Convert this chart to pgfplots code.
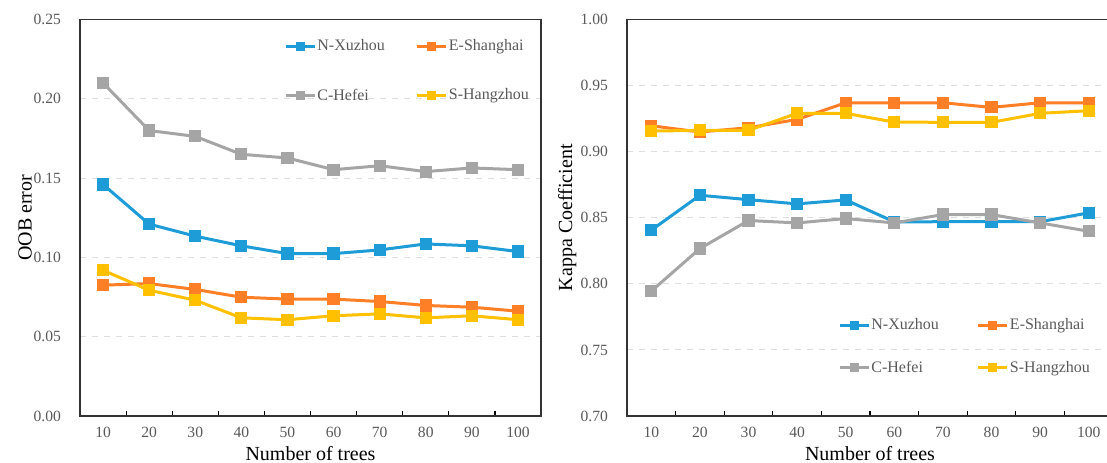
\documentclass[border=0pt]{standalone}
\usepackage{fontspec}
\setmainfont{Liberation Serif}
\usepackage{pgfplots}
\pgfplotsset{compat=1.18}
\definecolor{cblue}{HTML}{1E9CD7}
\definecolor{corange}{HTML}{FF7F27}
\definecolor{cgray}{HTML}{A5A5A5}
\definecolor{cyellow}{HTML}{FFC000}
\definecolor{txt}{HTML}{595959}
\pgfplotsset{
  myax/.style={
    scale only axis,
    height=198.25pt,
    xmin=0.5, xmax=10.5,
    xtick={0.5,1.5,...,10.5},
    x tick label as interval,
    xticklabels={10,20,30,40,50,60,70,80,90,100},
    xtick pos=bottom,
    tick align=inside,
    major tick length=2.5pt,
    ytick style={draw=none},
    xtick style={black, line width=0.6pt},
    axis line style={black!80, line width=0.9pt},
    ymajorgrids,
    grid style={dashed, color=black!13, line width=0.5pt},
    tick label style={font=\fontsize{7.8}{9}\selectfont, color=txt},
    /pgf/number format/assume math mode=true,
    yticklabel style={/pgf/number format/fixed,/pgf/number format/fixed zerofill,/pgf/number format/precision=2, xshift=-6pt},
    xticklabel style={yshift=-2pt},
    label style={font=\fontsize{9}{11}\selectfont, color=txt},
    xlabel={Number of trees},
    every axis x label/.style={at={(axis description cs:0.5,-0.095)}, anchor=center},
    legend cell align=left,
    legend columns=2,
    legend style={draw=none, fill=none, inner sep=0pt, font=\fontsize{8}{9.5}\selectfont, text=txt,
      nodes={inner sep=0.5pt}},
    legend image code/.code={\draw[mark repeat=2,mark phase=2,mark size=1.5pt,#1] plot coordinates {(0pt,0pt) (7.25pt,0pt) (14.5pt,0pt)};},
    every axis plot/.append style={line width=1.5pt, mark=square*, mark size=2.3pt, mark options={solid}},
  }
}
\begin{document}
\begin{tikzpicture}
\begin{axis}[myax,
  at={(40pt,23pt)}, anchor=south west,
  width=230.5pt,
  ymin=0, ymax=0.25, ytick={0,0.05,...,0.25},
  ylabel={OOB error},
  every axis y label/.style={at={(axis description cs:-0.119,0.5)}, rotate=90, anchor=center},
  legend style={at={(axis description cs:0.4425,0.87)}, anchor=west,
    /tikz/every even column/.append style={column sep=15pt}, row sep=16.8pt},
]
\addplot[cblue] coordinates {(1,0.146) (2,0.121) (3,0.1134) (4,0.1073) (5,0.1024) (6,0.1024) (7,0.1047) (8,0.1085) (9,0.1073) (10,0.1037)};
\addlegendentry{N-Xuzhou}
\addplot[corange] coordinates {(1,0.0825) (2,0.0835) (3,0.0798) (4,0.0749) (5,0.0737) (6,0.0737) (7,0.0722) (8,0.0697) (9,0.0686) (10,0.0661)};
\addlegendentry{E-Shanghai}
\addplot[cgray] coordinates {(1,0.210) (2,0.180) (3,0.1763) (4,0.165) (5,0.1627) (6,0.1553) (7,0.1578) (8,0.1541) (9,0.1564) (10,0.1553)};
\addlegendentry{C-Hefei}
\addplot[cyellow] coordinates {(1,0.0919) (2,0.0793) (3,0.0730) (4,0.0619) (5,0.0607) (6,0.0632) (7,0.0644) (8,0.0619) (9,0.0632) (10,0.0607)};
\addlegendentry{S-Hangzhou}
\end{axis}
\begin{axis}[myax,
  at={(313.5pt,23pt)}, anchor=south west,
  width=243pt,
  ymin=0.70, ymax=1.00, ytick={0.70,0.75,...,1.001},
  ylabel={Kappa Coefficient},
  every axis y label/.style={at={(axis description cs:-0.123,0.5)}, rotate=90, anchor=center},
  legend style={at={(axis description cs:0.4342,0.175)}, anchor=west,
    /tikz/every even column/.append style={column sep=18.5pt}, row sep=13.3pt},
]
\addplot[cblue] coordinates {(1,0.8406) (2,0.867) (3,0.8637) (4,0.8605) (5,0.8635) (6,0.8469) (7,0.847) (8,0.847) (9,0.847) (10,0.8537)};
\addlegendentry{N-Xuzhou}
\addplot[corange] coordinates {(1,0.9196) (2,0.9149) (3,0.9181) (4,0.9244) (5,0.937) (6,0.937) (7,0.937) (8,0.9335) (9,0.937) (10,0.937)};
\addlegendentry{E-Shanghai}
\addplot[cgray] coordinates {(1,0.7945) (2,0.8267) (3,0.8479) (4,0.8461) (5,0.8494) (6,0.8461) (7,0.8524) (8,0.8524) (9,0.8461) (10,0.8398)};
\addlegendentry{C-Hefei}
\addplot[cyellow] coordinates {(1,0.9156) (2,0.9161) (3,0.9161) (4,0.929) (5,0.929) (6,0.9224) (7,0.9222) (8,0.9222) (9,0.929) (10,0.931)};
\addlegendentry{S-Hangzhou}
\end{axis}
\pgfresetboundingbox
\useasboundingbox (0,0) rectangle (553.5pt,231pt);
\end{tikzpicture}
\end{document}
